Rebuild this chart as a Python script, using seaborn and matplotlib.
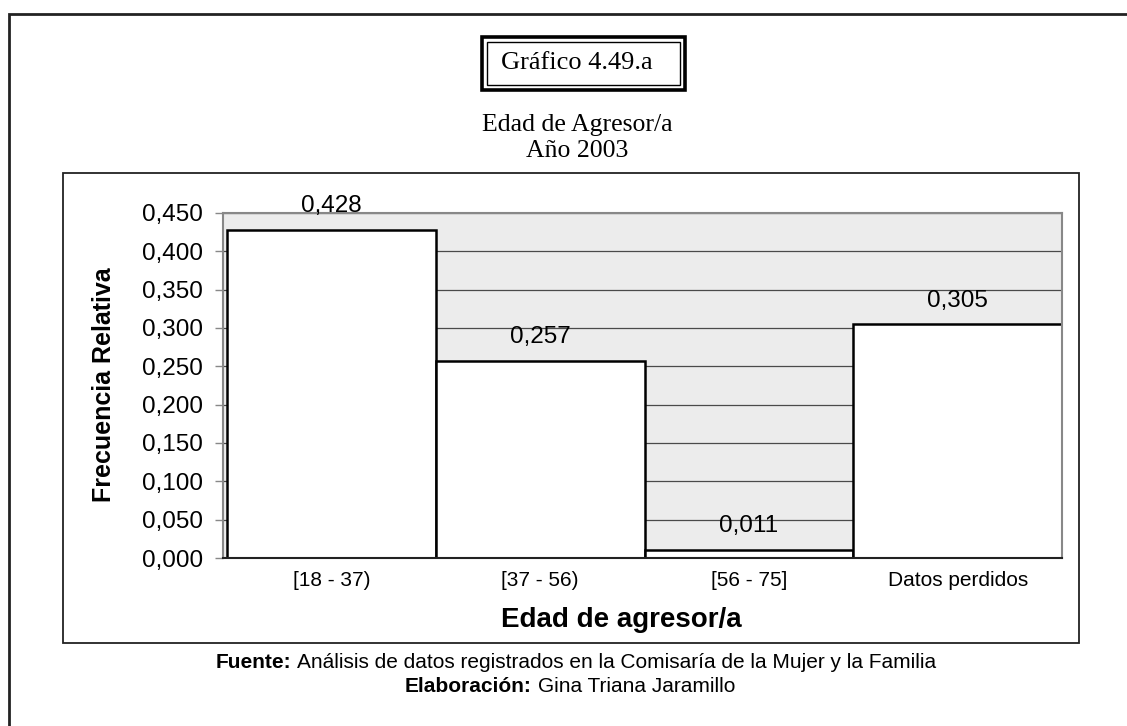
import matplotlib
matplotlib.use("Agg")
import matplotlib.pyplot as plt
from matplotlib.patches import Rectangle
from matplotlib.ticker import FuncFormatter, MultipleLocator
import seaborn as sns
import pandas as pd

# Relative frequency of aggressor age groups, 2003
categories = ["[18 - 37)", "[37 - 56)", "[56 - 75]", "Datos perdidos"]
frequencies = [0.428, 0.257, 0.011, 0.305]

W, H = 1127, 726
sns.set_theme(style="white")
plt.rcParams["font.family"] = ["Liberation Sans", "DejaVu Sans"]

fig = plt.figure(figsize=(W / 100, H / 100), dpi=100)
fig.patch.set_facecolor("white")


def fx(x):
    return x / W


def fy(y):
    return 1 - y / H


def comma(v):
    return f"{v:.3f}".replace(".", ",")


# plot area in pixel bounds
left, right, top, bottom = 223, 1062, 213, 558
ax = fig.add_axes([fx(left), fy(bottom), fx(right) - fx(left), fy(top) - fy(bottom)])
ax.set_facecolor("#ececec")

df = pd.DataFrame({"categoria": categories, "frecuencia": frequencies})
sns.barplot(data=df, x="categoria", y="frecuencia", color="white",
            edgecolor="black", linewidth=1.8, width=1.0, saturation=1, ax=ax)

ax.set_ylim(0, 0.45)
ax.set_xlim(-0.52, len(categories) - 0.5)
ax.yaxis.set_major_locator(MultipleLocator(0.05))
ax.yaxis.set_major_formatter(FuncFormatter(lambda v, p: comma(v)))
ax.set_axisbelow(True)
ax.yaxis.grid(True, color="#4a4a4a", linewidth=0.9)
ax.xaxis.grid(False)

for s in ax.spines.values():
    s.set_color("#888888")
    s.set_linewidth(1.5)
ax.spines["bottom"].set_color("#222222")

ax.tick_params(axis="y", which="major", direction="out", length=6, width=1,
               color="#888888", labelsize=17.5, pad=8.5, left=True, labelcolor="black")
ax.tick_params(axis="x", length=0, labelsize=15, pad=9, labelcolor="black")

ax.set_xlabel("")
ax.set_ylabel("")

# value labels above bars
for i, v in enumerate(frequencies):
    ax.annotate(comma(v), (i, v), xytext=(0, 17), textcoords="offset points",
                ha="center", va="center", fontsize=17.5, color="black")

# axis titles
fig.text(fx(104), fy(385), "Frecuencia Relativa", rotation=90, ha="center",
         va="center", fontsize=18, fontweight="bold", color="black")
fig.text(fx(621), fy(620), "Edad de agresor/a", ha="center", va="center",
         fontsize=20, fontweight="bold", color="black")

# chart title block
serif = ["Liberation Serif", "DejaVu Serif"]
fig.text(fx(577), fy(63), "Gráfico 4.49.a", ha="center", va="center",
         fontsize=19, family=serif, color="black")
fig.text(fx(577), fy(125), "Edad de Agresor/a", ha="center", va="center",
         fontsize=18.5, family=serif, color="black")
fig.text(fx(577), fy(151), "Año 2003", ha="center", va="center",
         fontsize=18.5, family=serif, color="black")

# source notes: bold lead-in followed by regular text, centred as one line
renderer = fig.canvas.get_renderer()


def mixed_line(cx, y, lead, rest, size):
    t1 = fig.text(0, fy(y), lead, fontsize=size, fontweight="bold",
                  ha="left", va="center", color="black")
    t2 = fig.text(0, fy(y), rest, fontsize=size, ha="left", va="center", color="black")
    w1 = t1.get_window_extent(renderer).width
    w2 = t2.get_window_extent(renderer).width
    gap = size * 0.28 * 100 / 72
    x0 = cx - (w1 + gap + w2) / 2
    t1.set_x(fx(x0))
    t2.set_x(fx(x0 + w1 + gap))


mixed_line(576, 663, "Fuente:",
           "Análisis de datos registrados en la Comisaría de la Mujer y la Familia", 15)
mixed_line(570, 686, "Elaboración:", "Gina Triana Jaramillo", 15)


def frame(x0, y0, x1, y1, lw, color="black"):
    fig.patches.append(Rectangle((fx(x0), fy(y1)), fx(x1) - fx(x0), fy(y0) - fy(y1),
                                 transform=fig.transFigure, fill=False,
                                 linewidth=lw, edgecolor=color, zorder=5))


# outer page frame (open to the right and bottom)
frame(9, 14, 1140, 740, 2.0, "#222222")
# chart frame
frame(63, 173, 1079, 643, 1.3, "#222222")
# double-lined title box
frame(482, 37, 685, 90, 2.6)
frame(487, 42, 680, 85, 1.0)

fig.savefig("out.png", dpi=100, facecolor="white")
